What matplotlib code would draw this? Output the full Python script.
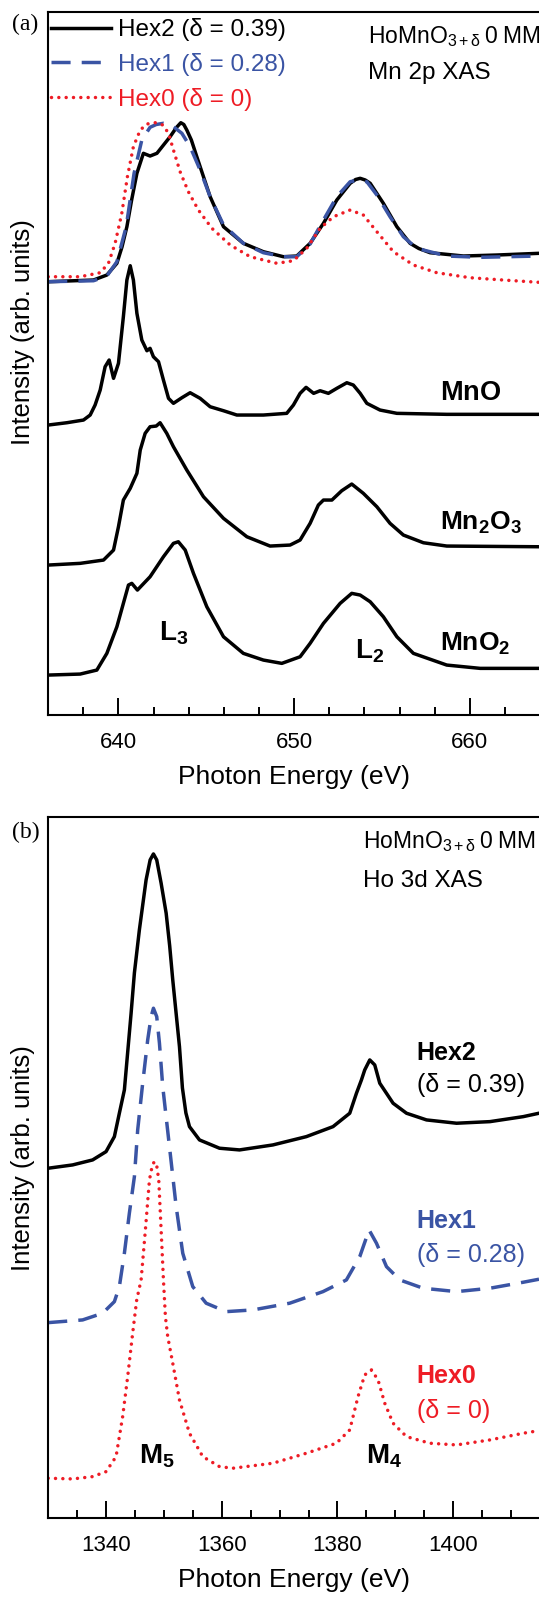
import matplotlib
matplotlib.use("Agg")
import matplotlib.pyplot as plt

plt.rcParams['font.family'] = ['Liberation Sans', 'DejaVu Sans']
plt.rcParams['mathtext.fontset'] = 'custom'
plt.rcParams['mathtext.rm'] = 'Liberation Sans'
plt.rcParams['mathtext.it'] = 'Liberation Sans:italic'
plt.rcParams['mathtext.bf'] = 'Liberation Sans:bold'

# ---- panel (a): Mn 2p XAS ----
e_hex2_mn = [636.0, 638.58, 639.34, 639.91, 640.2, 640.48, 640.75, 641.05, 641.42, 641.80,
             642.19, 642.94, 643.3, 643.55, 643.72, 643.89, 644.15, 644.46, 645.22, 645.98,
             647.11, 648.25, 649.39, 650.15, 650.91, 651.67, 652.43, 653.19, 653.5, 653.76,
             654.05, 654.33, 655.08, 655.85, 656.60, 657.1, 657.74, 659.64, 661.54, 663.94]
i_hex2_mn = [4.333, 4.35, 4.40, 4.517, 4.68, 4.883, 5.15, 5.417, 5.617, 5.59,
             5.617, 5.783, 5.875, 5.923, 5.905, 5.85, 5.75, 5.583, 5.183, 4.883,
             4.717, 4.633, 4.583, 4.59, 4.717, 4.917, 5.15, 5.317, 5.355, 5.367,
             5.35, 5.317, 5.117, 4.883, 4.717, 4.665, 4.623, 4.59, 4.60, 4.617]

e_hex1_mn = [636.0, 638.58, 639.34, 639.91, 640.44, 640.89, 641.33, 641.80, 642.15, 642.56,
             643.13, 643.61, 644.08, 644.65, 645.22, 645.98, 647.11, 648.25, 649.39, 650.15,
             650.91, 651.67, 652.43, 653.19, 653.66, 654.14, 654.71, 655.46, 656.22, 656.98,
             658.69, 660.59, 663.94]
i_hex1_mn = [4.333, 4.343, 4.39, 4.533, 4.883, 5.417, 5.75, 5.877, 5.905, 5.917,
             5.883, 5.817, 5.683, 5.45, 5.183, 4.90, 4.717, 4.623, 4.583, 4.583,
             4.71, 4.95, 5.183, 5.333, 5.35, 5.333, 5.20, 4.983, 4.783, 4.667,
             4.59, 4.577, 4.59]

e_hex0_mn = [636.0, 637.82, 638.96, 639.43, 639.81, 640.19, 640.51, 640.85, 641.24, 641.62,
             642.09, 642.53, 642.85, 643.13, 643.51, 643.98, 644.55, 645.32, 646.36, 647.50,
             649.02, 649.96, 650.72, 651.48, 652.24, 653.19, 653.94, 654.71, 655.65, 656.79,
             658.12, 660.02, 661.91, 663.94]
i_hex0_mn = [4.383, 4.383, 4.423, 4.517, 4.717, 5.017, 5.383, 5.683, 5.85, 5.91,
             5.923, 5.90, 5.817, 5.65, 5.433, 5.233, 5.05, 4.867, 4.70, 4.583,
             4.517, 4.543, 4.667, 4.867, 4.983, 5.05, 5.00, 4.833, 4.633, 4.50,
             4.423, 4.373, 4.35, 4.327]

e_mno = [636.0, 637.06, 638.01, 638.39, 638.67, 638.96, 639.24, 639.47, 639.72, 640.00,
         640.28, 640.48, 640.67, 640.85, 641.05, 641.33, 641.62, 641.80, 641.99, 642.28,
         642.56, 642.85, 643.13, 643.61, 644.08, 644.65, 645.22, 645.98, 646.74, 648.25,
         649.58, 649.96, 650.34, 650.68, 651.11, 651.48, 651.95, 652.43, 653.00, 653.37,
         653.76, 654.14, 654.89, 655.85, 658.69, 663.94]
i_mno = [2.90, 2.923, 2.95, 3.00, 3.10, 3.25, 3.483, 3.55, 3.367, 3.517,
         3.983, 4.35, 4.493, 4.35, 4.017, 3.75, 3.643, 3.667, 3.583, 3.533,
         3.35, 3.167, 3.117, 3.173, 3.223, 3.167, 3.083, 3.043, 3.00, 3.00,
         3.017, 3.10, 3.217, 3.277, 3.217, 3.243, 3.217, 3.267, 3.323, 3.30,
         3.217, 3.117, 3.05, 3.017, 3.007, 3.007]

e_mn2o3 = [636.0, 637.82, 639.15, 639.72, 640.00, 640.28, 640.67, 641.05, 641.24, 641.52,
           641.80, 642.15, 642.37, 642.75, 643.13, 643.89, 644.84, 645.98, 647.31, 648.63,
           649.77, 650.34, 650.91, 651.38, 651.67, 652.15, 652.71, 653.28, 653.94, 654.71,
           655.46, 656.22, 657.36, 658.69, 663.94]
i_mn2o3 = [1.50, 1.517, 1.55, 1.65, 1.883, 2.15, 2.267, 2.417, 2.65, 2.817,
           2.883, 2.89, 2.923, 2.817, 2.683, 2.45, 2.183, 1.967, 1.783, 1.69,
           1.70, 1.75, 1.917, 2.10, 2.15, 2.15, 2.243, 2.31, 2.217, 2.083,
           1.917, 1.80, 1.723, 1.69, 1.683]

e_mno2 = [636.0, 637.82, 638.77, 639.34, 639.91, 640.28, 640.57, 640.76, 641.08, 641.80,
          642.56, 643.13, 643.41, 643.80, 644.27, 645.03, 645.98, 647.11, 648.25, 649.30,
          650.34, 650.91, 651.67, 652.62, 653.28, 653.76, 654.33, 655.08, 655.85, 656.79,
          658.69, 660.59, 663.94]
i_mno2 = [0.40, 0.41, 0.45, 0.617, 0.883, 1.117, 1.30, 1.317, 1.25, 1.383,
          1.583, 1.717, 1.733, 1.65, 1.417, 1.083, 0.783, 0.617, 0.55, 0.517,
          0.583, 0.717, 0.917, 1.117, 1.217, 1.20, 1.133, 0.983, 0.783, 0.617,
          0.50, 0.467, 0.467]

# ---- panel (b): Ho 3d XAS ----
e_hex2_ho = [1330.0, 1334.22, 1337.68, 1340.00, 1341.44, 1342.30, 1343.17, 1344.33, 1344.9, 1345.76,
             1346.92, 1347.62, 1348.19, 1348.76, 1349.52, 1350.39, 1351.0, 1351.53, 1352.69, 1353.2,
             1353.8, 1354.42, 1356.15, 1359.61, 1363.07, 1368.84, 1374.62, 1379.23, 1382.12, 1383.28,
             1384.14, 1384.71, 1385.58, 1386.44, 1387.31, 1389.61, 1391.93, 1395.39, 1400.58, 1406.35,
             1412.11, 1414.83]
i_hex2_ho = [3.497, 3.53, 3.58, 3.663, 3.813, 4.047, 4.28, 5.047, 5.45, 5.88,
             6.38, 6.58, 6.64, 6.58, 6.347, 6.047, 5.72, 5.38, 4.713, 4.30,
             4.05, 3.913, 3.78, 3.697, 3.68, 3.73, 3.813, 3.913, 4.047, 4.247,
             4.38, 4.48, 4.58, 4.53, 4.347, 4.147, 4.047, 3.98, 3.947, 3.963,
             4.013, 4.047]

e_hex1_ho = [1330.0, 1335.95, 1339.41, 1341.44, 1342.30, 1343.17, 1344.03, 1344.90, 1345.47, 1346.3,
             1347.20, 1347.79, 1348.19, 1348.76, 1349.23, 1349.80, 1350.96, 1352.12, 1353.26, 1354.99,
             1357.31, 1360.77, 1365.38, 1371.73, 1377.49, 1381.54, 1383.85, 1385.46, 1386.74, 1388.47,
             1390.77, 1394.80, 1400.58, 1406.35, 1412.11, 1414.83]
i_hex1_ho = [1.953, 1.98, 2.047, 2.163, 2.313, 2.647, 3.047, 3.413, 3.88, 4.33,
             4.78, 5.013, 5.097, 5.013, 4.747, 4.313, 3.713, 3.113, 2.647, 2.313,
             2.147, 2.063, 2.08, 2.147, 2.263, 2.38, 2.613, 2.88, 2.747, 2.513,
             2.38, 2.297, 2.263, 2.297, 2.357, 2.387]

e_hex0_ho = [1330.0, 1334.22, 1337.68, 1340.00, 1341.73, 1342.87, 1343.74, 1344.60, 1345.30, 1346.06,
             1346.80, 1347.50, 1348.01, 1348.36, 1348.79, 1349.11, 1349.52, 1349.92, 1350.26, 1350.66,
             1351.53, 1352.69, 1354.42, 1356.72, 1359.61, 1361.91, 1368.84, 1374.62, 1379.81, 1382.12,
             1383.55, 1384.71, 1385.87, 1387.01, 1388.17, 1389.61, 1391.93, 1395.96, 1400.58, 1406.35,
             1412.11, 1414.83]
i_hex0_ho = [0.397, 0.39, 0.413, 0.463, 0.613, 1.013, 1.413, 1.847, 2.18, 2.38,
             2.88, 3.38, 3.53, 3.563, 3.51, 3.38, 2.88, 2.38, 2.013, 1.813,
             1.547, 1.18, 0.847, 0.613, 0.513, 0.497, 0.547, 0.647, 0.747, 0.88,
             1.213, 1.43, 1.48, 1.38, 1.147, 0.947, 0.813, 0.747, 0.73, 0.78,
             0.847, 0.873]

BLACK = 'black'
BLUE = '#3a54a4'
RED = '#ee1c25'
LW = 2.5
dash_style = (0, (5.5, 3.2))
dot_style = (0, (0.01, 2.1))


def style_axis(ax, xlim, ylim, major, minor):
    ax.set_xlim(*xlim)
    ax.set_ylim(*ylim)
    ax.xaxis.set_major_locator(plt.MultipleLocator(major))
    ax.xaxis.set_minor_locator(plt.MultipleLocator(minor))
    ax.tick_params(axis='x', which='both', direction='in', top=False, width=1.4,
                   labelsize=16, pad=12)
    ax.tick_params(axis='x', which='major', length=12)
    ax.tick_params(axis='x', which='minor', length=6)
    ax.tick_params(axis='y', left=False, labelleft=False)
    ax.spines['right'].set_visible(False)
    for s in ['left', 'top', 'bottom']:
        ax.spines[s].set_linewidth(1.5)
    ax.set_xlabel('Photon Energy (eV)', fontsize=19, labelpad=9)
    ax.set_ylabel('Intensity (arb. units)', fontsize=18.5)


fig = plt.figure(figsize=(5.39, 15.99), dpi=100)

# panel (a)
ax1 = fig.add_axes([0.0894, 0.5528, 0.9106, 0.4397])
l2, = ax1.plot(e_hex2_mn, i_hex2_mn, color=BLACK, lw=LW, solid_joinstyle='round',
               label='Hex2 (δ = 0.39)')
l1, = ax1.plot(e_hex1_mn, i_hex1_mn, color=BLUE, lw=LW, linestyle=dash_style,
               label='Hex1 (δ = 0.28)')
l0, = ax1.plot(e_hex0_mn, i_hex0_mn, color=RED, lw=LW, linestyle=dot_style,
               dash_capstyle='round', label='Hex0 (δ = 0)')
for e, i in [(e_mno, i_mno), (e_mn2o3, i_mn2o3), (e_mno2, i_mno2)]:
    ax1.plot(e, i, color=BLACK, lw=LW, solid_joinstyle='round')
style_axis(ax1, (636, 663.94), (0, 7.03), 10, 2)
ax1.yaxis.set_label_coords(-0.027, 0.545)

leg = ax1.legend(handles=[l2, l1, l0], loc='upper left', bbox_to_anchor=(0.005, 0.991),
                 frameon=False, fontsize=17.5, borderpad=0, borderaxespad=0,
                 handlelength=2.5, handletextpad=0.29, labelspacing=0.48)
for txt, c in zip(leg.get_texts(), [BLACK, BLUE, RED]):
    txt.set_color(c)

ax1.text(654.2, 6.72, 'HoMnO$_{\\mathrm{3+δ}}$\u20090\u2009MM', fontsize=16.5, va='baseline')
ax1.text(654.2, 6.36, 'Mn 2p XAS', fontsize=17.5, va='baseline')
ax1.text(658.31, 3.15, r'$\mathbf{MnO}$', fontsize=19.5, va='baseline')
ax1.text(658.31, 1.857, r'$\mathbf{Mn_2O_3}$', fontsize=19, va='baseline')
ax1.text(658.31, 0.643, r'$\mathbf{MnO_2}$', fontsize=19, va='baseline')
ax1.text(642.28, 0.75, r'$\mathbf{L_3}$', fontsize=20, va='baseline')
ax1.text(653.47, 0.567, r'$\mathbf{L_2}$', fontsize=20, va='baseline')

# panel (b)
ax2 = fig.add_axes([0.0894, 0.0507, 0.9106, 0.4384])
ax2.plot(e_hex2_ho, i_hex2_ho, color=BLACK, lw=LW, solid_joinstyle='round')
ax2.plot(e_hex1_ho, i_hex1_ho, color=BLUE, lw=LW, linestyle=dash_style)
ax2.plot(e_hex0_ho, i_hex0_ho, color=RED, lw=LW, linestyle=dot_style, dash_capstyle='round')
style_axis(ax2, (1330, 1414.83), (0, 7.01), 20, 5)
ax2.yaxis.set_label_coords(-0.027, 0.514)

ax2.text(1384.4, 6.697, 'HoMnO$_{\\mathrm{3+δ}}$\u20090\u2009MM', fontsize=16.5, va='baseline')
ax2.text(1384.4, 6.313, 'Ho 3d XAS', fontsize=17.5, va='baseline')
ax2.text(1393.66, 4.58, 'Hex2', fontsize=18, fontweight='bold', color=BLACK, va='baseline')
ax2.text(1393.66, 4.263, '(δ = 0.39)', fontsize=18, color=BLACK, va='baseline')
ax2.text(1393.66, 2.897, 'Hex1', fontsize=18, fontweight='bold', color=BLUE, va='baseline')
ax2.text(1393.66, 2.563, '(δ = 0.28)', fontsize=18, color=BLUE, va='baseline')
ax2.text(1393.66, 1.353, 'Hex0', fontsize=18, fontweight='bold', color=RED, va='baseline')
ax2.text(1393.66, 0.997, '(δ = 0)', fontsize=18, color=RED, va='baseline')
ax2.text(1345.76, 0.547, r'$\mathbf{M_5}$', fontsize=20, va='baseline')
ax2.text(1384.89, 0.547, r'$\mathbf{M_4}$', fontsize=20, va='baseline')

fig.text(12 / 539, 1 - 24 / 1599, '(a)', family='Liberation Serif', fontsize=17, va='center')
fig.text(12 / 539, 1 - 832.7 / 1599, '(b)', family='Liberation Serif', fontsize=17, va='center')

fig.savefig('out.png', dpi=100)
